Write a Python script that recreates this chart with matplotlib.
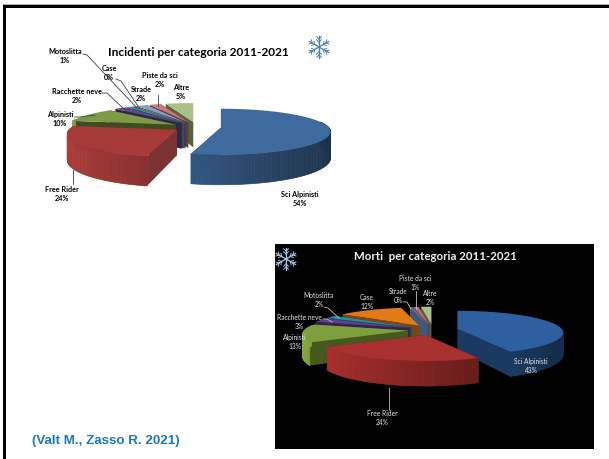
import numpy as np
import matplotlib
matplotlib.use("Agg")
import matplotlib.pyplot as plt
from matplotlib.patches import Polygon, Rectangle

W, H = 609, 459

categories = ["Sci Alpinisti", "Free Rider", "Alpinisti", "Racchette neve", "Motoslitta",
              "Case", "Strade", "Piste da sci", "Altre"]
incidenti = [54, 24, 10, 2, 1, 0.4, 2, 2, 5]
morti = [43, 24, 13, 3, 2, 12, 0.4, 1, 2]

colors1 = ["#3f6a9e", "#a53a38", "#7f9a45", "#634a86", "#2f93ad", "#e0812c", "#7f9fcc", "#c97a78", "#a9c08a"]
colors2 = ["#2e5f9f", "#a8302e", "#7ea03c", "#5f3f8c", "#1f93b0", "#e07b1a", "#5f82b5", "#c46a68", "#a9c08a"]
walls1 = ["#1e3553", "#7b3230", "#3f4c22", "#33254a", "#1a4f5e", "#7a4614", "#2e415c", "#67383a", "#55603f"]
walls2 = ["#1b3a63", "#6a1e1c", "#45581f", "#33254a", "#1a4f5e", "#7a4614", "#40587c", "#67383a", "#55603f"]


def scaled(c, f):
    rgb = np.array(matplotlib.colors.to_rgb(c))
    return tuple(np.clip(rgb * f, 0, 1))


def draw_pie(ax, values, colors, walls, cx, cy, rx, ry, depth, explode):
    vals = np.array(values, dtype=float)
    edges = np.concatenate([[0], np.cumsum(vals)]) / vals.sum() * 2 * np.pi
    order = sorted(range(len(vals)), key=lambda i: -np.cos((edges[i] + edges[i + 1]) / 2))
    for i in order:
        a0, a1 = edges[i], edges[i + 1]
        mid = (a0 + a1) / 2
        ax0 = cx + explode * np.sin(mid)
        ay0 = cy - explode * np.cos(mid) * ry / rx
        t = np.linspace(a0, a1, max(4, int((a1 - a0) * 40)))
        # a bit of perspective: the front of the pie is wider and thicker than the back
        persp = 1 - 0.18 * np.cos(t)
        xs = ax0 + rx * np.sin(t) * persp
        ys = ay0 - ry * np.cos(t) * persp
        ds = depth * (0.85 - 0.15 * np.cos(t))
        d0 = depth * 0.85
        for xa, ya, da in [(xs[0], ys[0], ds[0]), (xs[-1], ys[-1], ds[-1])]:
            ax.add_patch(Polygon([(ax0, ay0), (xa, ya), (xa, ya + da), (ax0, ay0 + d0)],
                                 fc=walls[i], ec="none", zorder=2))
        # outer wall, shaded from left to right
        for j in range(len(t) - 1):
            if np.cos((t[j] + t[j + 1]) / 2) > 0.25:
                continue
            shade = 1.05 - 0.6 * (np.sin(t[j]) + 1) / 2
            c = scaled(colors[i], shade)
            ax.add_patch(Polygon([(xs[j], ys[j]), (xs[j + 1], ys[j + 1]), (xs[j + 1], ys[j + 1] + ds[j + 1]),
                                  (xs[j], ys[j] + ds[j])], fc=c, ec=c, lw=0.5, zorder=2))
        top = [(ax0, ay0)] + list(zip(xs, ys))
        ax.add_patch(Polygon(top, fc=colors[i], ec="none", zorder=2))


def draw_snowflake(ax, x, y, r, color):
    for k in range(6):
        a = k * np.pi / 3
        ax.plot([x, x + r * np.sin(a)], [y, y - r * np.cos(a)], color=color, lw=0.9, zorder=3)
        for f in (0.45, 0.72):
            px, py = x + f * r * np.sin(a), y - f * r * np.cos(a)
            for s in (-0.8, 0.8):
                ax.plot([px, px + 0.3 * r * np.sin(a + s)], [py, py - 0.3 * r * np.cos(a + s)],
                        color=color, lw=0.7, zorder=3)


def label_text(i, values):
    return f"{categories[i]}\n{round(values[i])}%"


plt.rcParams["font.family"] = ["Lato", "DejaVu Sans"]
fig = plt.figure(figsize=(W / 100, H / 100), dpi=100)
ax = fig.add_axes([0, 0, 1, 1])
ax.set_xlim(0, W)
ax.set_ylim(H, 0)
ax.axis("off")

# slide frame
ax.add_patch(Rectangle((3, 4), W, 1, fc="#b0b0b0", ec="none"))
ax.add_patch(Rectangle((3, 5), W, 2.5, fc="black", ec="none"))
ax.add_patch(Rectangle((3, 5), 2.5, H, fc="black", ec="none"))

# first chart
ax.text(198, 52, "Incidenti per categoria 2011-2021", ha="center", va="center", fontsize=8.6,
        fontweight="bold", color="black")
draw_snowflake(ax, 319, 47, 11, "#4d7fb5")
draw_pie(ax, incidenti, colors1, walls1, 197, 127, 108, 23, 30, 24)

pos1 = [(300, 199), (62, 194), (60, 119), (77, 96), (65, 56), (109, 73), (141, 94), (160, 80), (181, 92)]
for i, (x, y) in enumerate(pos1):
    ax.text(x, y, label_text(i, incidenti), ha="center", va="center", fontsize=5.2, fontweight="bold",
            color="black", linespacing=1.45)
lead1 = [[(73, 170), (73, 184)], [(75, 117), (80, 117), (95, 115)], [(102, 93), (107, 93), (125, 110)],
         [(83, 54), (87, 55), (137, 108)], [(116, 79), (121, 81), (140, 109)], [(158, 95), (158, 106)]]
for seg in lead1:
    ax.plot(*zip(*seg), color="#404040", lw=0.6, zorder=3)

# second chart
ax.add_patch(Rectangle((275, 244), 319, 205, fc="black", ec="none", zorder=1))
ax.text(435, 257, "Morti  per categoria 2011-2021", ha="center", va="center", fontsize=8.3,
        fontweight="bold", color="#f2f2f2", zorder=3)
draw_snowflake(ax, 286, 259, 11, "#a9c8ea")
draw_pie(ax, morti, colors2, walls2, 433, 330, 104, 22, 25, 25)

pos2 = [(531, 366), (382, 418), (295, 342), (299, 322), (319, 300), (367, 302), (398, 296), (415, 283), (430, 298)]
for i, (x, y) in enumerate(pos2):
    ax.text(x, y, label_text(i, morti), ha="center", va="center", fontsize=4.8, color="#e6e6e6",
            linespacing=1.45, zorder=4)
lead2 = [[(389, 388), (389, 410)], [(323, 319), (327, 319), (332, 322)], [(324, 307), (328, 308), (339, 318)],
         [(403, 302), (407, 302), (411, 309)], [(416, 291), (416, 309)]]
for seg in lead2:
    ax.plot(*zip(*seg), color="#bfbfbf", lw=0.6, zorder=3)

ax.text(32, 441, "(Valt M., Zasso R. 2021)", ha="left", va="center", fontsize=9.6, fontweight="bold",
        color="#1a78c2", family=["Liberation Sans", "DejaVu Sans"])

fig.savefig("out.png", dpi=100)
